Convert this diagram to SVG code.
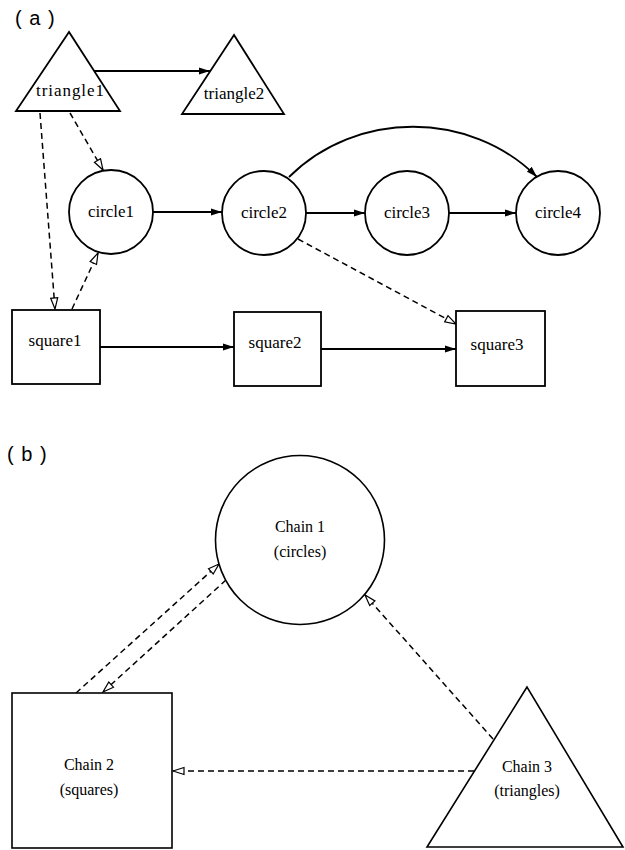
<svg xmlns="http://www.w3.org/2000/svg" width="625" height="850" viewBox="0 0 625 850">
<style>
.shape{fill:#fff;stroke:#000;stroke-width:1.8}
.shapeb{fill:#fff;stroke:#000;stroke-width:1.6}
.lbl{font-family:"Liberation Serif","Times New Roman",serif;font-size:17px;text-anchor:middle;fill:#000}
.lblb{font-family:"Liberation Serif","Times New Roman",serif;font-size:16px;text-anchor:middle;fill:#000}
.part{font-family:"Liberation Sans",Arial,sans-serif;font-size:20px;fill:#000;letter-spacing:1px}
.solid{fill:none;stroke:#000;stroke-width:1.8;marker-end:url(#ah)}
.dash{fill:none;stroke:#000;stroke-width:1.5;stroke-dasharray:6 4;marker-end:url(#oh)}
</style>
<defs>
<marker id="ah" viewBox="0 0 11 8" refX="11" refY="4" markerWidth="11" markerHeight="8" markerUnits="userSpaceOnUse" orient="auto"><path d="M0,0.5 L11,4 L0,7.5 z" fill="#000"/></marker>
<marker id="oh" viewBox="-1 -1 13 10" refX="11" refY="4" markerWidth="13" markerHeight="10" markerUnits="userSpaceOnUse" orient="auto"><path d="M0,0.5 L11,4 L0,7.5 z" fill="#fff" stroke="#000" stroke-width="1.2"/></marker>
</defs>
<rect x="0" y="0" width="625" height="850" fill="#fff"/>
<text class="part" x="15" y="25">( a )</text>
<text class="part" x="7" y="461">( b )</text>
<g id="connectors">
<line class="solid" x1="94" y1="71" x2="210" y2="71"/>
<line class="dash" x1="70" y1="113" x2="103" y2="170"/>
<line class="dash" x1="40" y1="113" x2="55" y2="309"/>
<line class="dash" x1="72" y1="309" x2="98" y2="253"/>
<line class="solid" x1="153" y1="212" x2="222" y2="212"/>
<line class="solid" x1="306" y1="213" x2="365" y2="213"/>
<line class="solid" x1="449" y1="213" x2="516" y2="213"/>
<path class="solid" d="M289,177 C356,110 470,110 537,177"/>
<line class="dash" x1="298" y1="239" x2="456" y2="324"/>
<line class="solid" x1="100" y1="347" x2="234" y2="347"/>
<line class="solid" x1="321" y1="349" x2="456" y2="349"/>
<line class="dash" x1="76" y1="693" x2="219" y2="564"/>
<line class="dash" x1="226" y1="580" x2="103" y2="692"/>
<line class="dash" x1="493" y1="739" x2="365" y2="595"/>
<line class="dash" x1="474" y1="771" x2="173" y2="771"/>
</g>
<g id="triangle1"><polygon class="shape" points="69,32 16,111 120,111"/><text class="lbl" x="70" y="96" textLength="68" lengthAdjust="spacing">triangle1</text></g>
<g id="triangle2"><polygon class="shape" points="234,35 182,114 284,114"/><text class="lbl" x="234" y="99">triangle2</text></g>
<g id="circle1"><circle class="shape" cx="111" cy="212" r="42"/><text class="lbl" x="111" y="217">circle1</text></g>
<g id="circle2"><circle class="shape" cx="264" cy="213" r="42"/><text class="lbl" x="264" y="218">circle2</text></g>
<g id="circle3"><circle class="shape" cx="407" cy="213" r="42"/><text class="lbl" x="407" y="218">circle3</text></g>
<g id="circle4"><circle class="shape" cx="558" cy="213" r="42"/><text class="lbl" x="558" y="218">circle4</text></g>
<g id="square1"><rect class="shape" x="12" y="310" width="88" height="74"/><text class="lbl" x="55" y="346">square1</text></g>
<g id="square2"><rect class="shape" x="234" y="312" width="87" height="74"/><text class="lbl" x="275" y="348">square2</text></g>
<g id="square3"><rect class="shape" x="456" y="311" width="89" height="75"/><text class="lbl" x="497" y="350">square3</text></g>
<g id="chain1"><circle class="shapeb" cx="300" cy="540" r="84.5"/><text class="lblb" x="300" y="532">Chain 1</text><text class="lblb" x="300" y="557">(circles)</text></g>
<g id="chain2"><rect class="shapeb" x="12" y="693" width="160" height="155"/><text class="lblb" x="89" y="770">Chain 2</text><text class="lblb" x="89" y="795">(squares)</text></g>
<g id="chain3"><polygon class="shapeb" points="527,687 427,847 623,847"/><text class="lblb" x="527" y="772">Chain 3</text><text class="lblb" x="527" y="796">(triangles)</text></g>
</svg>
